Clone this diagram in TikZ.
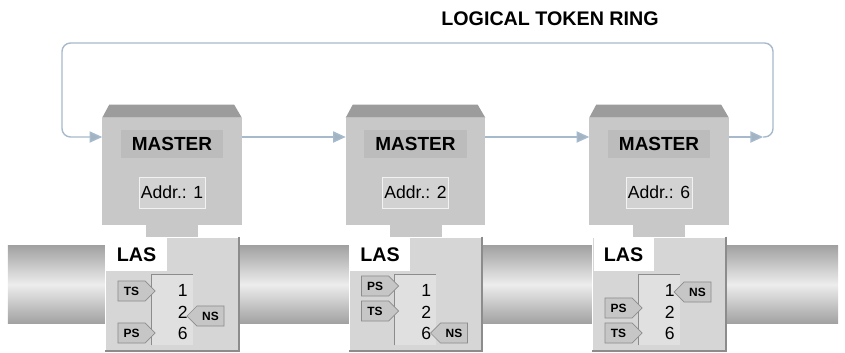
\documentclass[tikz,border=0pt]{standalone}
\usepackage{fontspec}
\setmainfont{Liberation Sans}
\usetikzlibrary{arrows.meta,shapes.symbols}
\definecolor{roofgray}{HTML}{9C9C9C}
\definecolor{bodygray}{HTML}{C8C8C8}
\definecolor{labelgray}{HTML}{BCBCBC}
\definecolor{addrgray}{HTML}{D2D2D2}
\definecolor{lasgray}{HTML}{D6D6D6}
\definecolor{listgray}{HTML}{E0E0E0}
\definecolor{taggray}{HTML}{C6C6C6}
\definecolor{edgegray}{HTML}{8C8C8C}
\definecolor{pipedark}{HTML}{A2A2A2}
\definecolor{pipelight}{HTML}{EDEDED}
\definecolor{ringblue}{HTML}{A6BACC}

\begin{document}
\begin{tikzpicture}[x=0.025cm,y=-0.025cm,
  every node/.style={inner sep=0pt},
  master/.style={fill=bodygray,minimum width=3.475cm,minimum height=2.675cm},
  roof/.style={fill=roofgray},
  mlabel/.style={fill=labelgray,minimum width=2.55cm,minimum height=0.7cm,font=\fontsize{13.5}{16}\selectfont\bfseries},
  addr/.style={fill=addrgray,draw=white!70!addrgray,minimum width=1.65cm,minimum height=0.775cm,font=\fontsize{12.5}{15}\selectfont},
  neck/.style={fill=bodygray,minimum width=1.3cm,minimum height=0.3cm},
  las/.style={fill=lasgray,draw=white,minimum width=3.325cm,minimum height=2.85cm},
  lasname/.style={fill=white,minimum width=1.5cm,minimum height=0.825cm,font=\fontsize{14}{16}\selectfont\bfseries},
  numlist/.style={fill=listgray,minimum width=1.025cm,minimum height=1.75cm},
  digits/.style={align=right,anchor=east,font=\fontsize{12.5}{15.3}\selectfont},
  tagbox/.style={signal,fill=taggray,draw=edgegray,line width=0.5pt,minimum width=0.925cm,minimum height=0.5cm,font=\fontsize{8.5}{10}\selectfont\bfseries},
  tagr/.style={tagbox,signal to=east},
  tagl/.style={tagbox,signal to=west},
  shadeedge/.style={draw=edgegray,line width=1.2pt},
  ring/.style={draw=ringblue,line width=1pt},
  ringtip/.style={-{Triangle[length=9pt,width=8pt,fill=ringblue!90!gray]}}
]
\useasboundingbox (0,0) rectangle (845,353);
\node[font=\fontsize{14}{16}\selectfont\bfseries] (title) at (550,19) {LOGICAL TOKEN RING};
\node[top color=pipedark,bottom color=pipedark,middle color=pipelight,minimum width=20.75cm,minimum height=1.925cm] (bus) at (423,284.5) {};
\node[master] (m1) at (172,171.5) {};
\fill[roof] (m1.north west) -- ++(7,-13) -- ++(125,0) -- (m1.north east) -- cycle;
\node[mlabel] (l1) at (172,144) {MASTER};
\node[addr] (a1) at (172,192.5) {Addr.: 1};
\node[neck] (k1) at (172,231) {};
\node[master] (m2) at (415.5,171.5) {};
\fill[roof] (m2.north west) -- ++(7,-13) -- ++(125,0) -- (m2.north east) -- cycle;
\node[mlabel] (l2) at (415.5,144) {MASTER};
\node[addr] (a2) at (415.5,192.5) {Addr.: 2};
\node[neck] (k2) at (415.5,231) {};
\node[master] (m3) at (659,171.5) {};
\fill[roof] (m3.north west) -- ++(7,-13) -- ++(125,0) -- (m3.north east) -- cycle;
\node[mlabel] (l3) at (659,144) {MASTER};
\node[addr] (a3) at (659,192.5) {Addr.: 6};
\node[neck] (k3) at (659,231) {};
\coordinate (rl) at (62,137);
\coordinate (rr) at (773,137);
\coordinate (rtl) at (62,43);
\coordinate (rtr) at (773,43);
\coordinate (rin) at (763,137);
\draw[ring,ringtip] (m1.east |- rl) -- (m2.west |- rl);
\draw[ring,ringtip] (m2.east |- rl) -- (m3.west |- rl);
\draw[ring,ringtip] (m3.east |- rl) -- (rin);
\draw[ring,ringtip,rounded corners=6pt] (rin) -- (rr) -- (rtr) -- (rtl) -- (rl) -- (m1.west |- rl);
\node[las] (s1) at (172,294) {};
\draw[shadeedge] (s1.north east) -- (s1.south east) -- (s1.south west);
\node[lasname] (n1) at (136.5,254.5) {LAS};
\node[numlist] (lst1) at (172,310) {};
\draw[shadeedge,line width=0.8pt] (lst1.south west) -- (lst1.north west) -- (lst1.north east);
\node[digits] (d1) at (188,312.5) {1\\2\\6};
\node[tagr] (ts1) at (131.5,291) {TS};
\node[tagr] (ps1) at (131.5,333) {PS};
\node[tagl] (ns1) at (210.5,316) {NS};
\node[las] (s2) at (415.5,294) {};
\draw[shadeedge] (s2.north east) -- (s2.south east) -- (s2.south west);
\node[lasname] (n2) at (380,254.5) {LAS};
\node[numlist] (lst2) at (415.5,310) {};
\draw[shadeedge,line width=0.8pt] (lst2.south west) -- (lst2.north west) -- (lst2.north east);
\node[digits] (d2) at (431.5,312.5) {1\\2\\6};
\node[tagr] (ps2) at (375,286) {PS};
\node[tagr] (ts2) at (375,311) {TS};
\node[tagl] (ns2) at (454,333) {NS};
\node[las] (s3) at (659,294) {};
\draw[shadeedge] (s3.north east) -- (s3.south east) -- (s3.south west);
\node[lasname] (n3) at (623.5,254.5) {LAS};
\node[numlist] (lst3) at (659,310) {};
\draw[shadeedge,line width=0.8pt] (lst3.south west) -- (lst3.north west) -- (lst3.north east);
\node[digits] (d3) at (675,312.5) {1\\2\\6};
\node[tagr] (ps3) at (618.5,308) {PS};
\node[tagr] (ts3) at (618.5,333) {TS};
\node[tagl] (ns3) at (697.5,292) {NS};
\end{tikzpicture}
\end{document}
